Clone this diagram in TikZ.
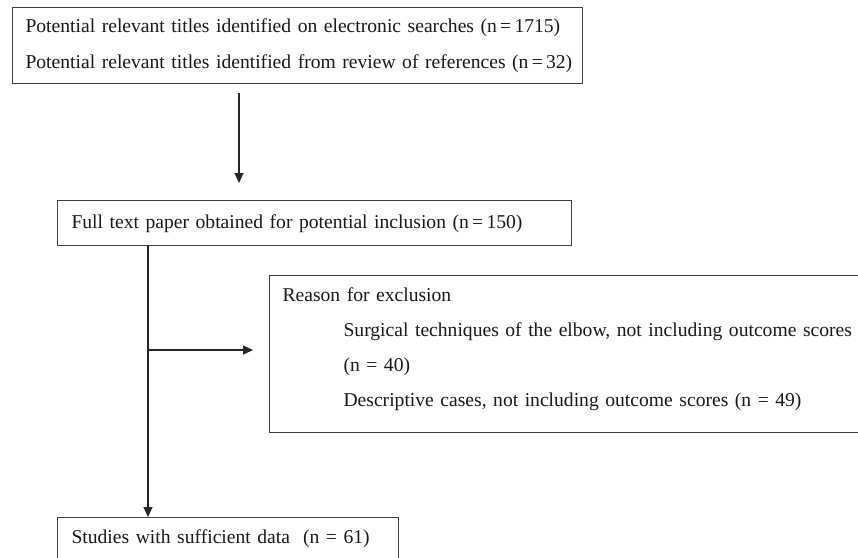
\documentclass[tikz,border=0pt]{standalone}
\usepackage{fontspec}
\setmainfont{Liberation Serif}
\usetikzlibrary{arrows.meta, positioning, calc}

% struts that set the gap above the first and below the last line
\newcommand{\topgap}[1]{\rule{0pt}{#1}}
\newcommand{\botgap}[1]{\rule[-#1]{0pt}{#1}}

\tikzset{
  box/.style={draw=black!75, line width=1.1pt, anchor=north west, align=left,
    inner ysep=0pt, font=\fontsize{19.6}{36}\selectfont, text=black!90},
  arr/.style={-{Triangle[length=10pt, width=9pt]}, line width=1.1pt, draw=black!85}
}

\begin{document}
\begin{tikzpicture}[x=1pt, y=-1pt]
    \useasboundingbox (0,0) rectangle (858,557);

    \node[box, inner xsep=13pt, text width=544pt] (search) at (12,7)
        {\topgap{25pt}\mbox{Potential relevant titles identified on electronic searches (n\,=\,1715)}\\
         \mbox{Potential relevant titles identified from review of references (n\,=\,32)}\botgap{15pt}};
    \node[box, inner xsep=14pt, text width=486pt] (full) at (57,200)
        {\topgap{28pt}\mbox{Full text paper obtained for potential inclusion (n\,=\,150)}\botgap{17pt}};
    \node[box, inner xsep=13pt, text width=575pt, font=\fontsize{19.6}{35}\selectfont] (excl) at (269,275)
        {\topgap{26pt}Reason for exclusion\\
         \hspace*{61pt}\mbox{Surgical techniques of the elbow, not including outcome scores}\\
         \hspace*{61pt}(n = 40)\\
         \hspace*{61pt}\mbox{Descriptive cases, not including outcome scores (n = 49)}\botgap{26pt}};
    \node[box, inner xsep=14pt, text width=313pt] (studies) at (57,517)
        {\topgap{26pt}\mbox{Studies with sufficient data\ \ (n = 61)}\botgap{20pt}};

    % connectors
    \coordinate (a1) at (239,93);
    \coordinate (v0) at (148,245);
    \coordinate (v1) at (148,350);
    \draw[arr, shorten >=17pt] (a1) -- (a1 |- full.north);
    \draw[arr] (v0) -- (v0 |- studies.north);
    \draw[arr, shorten >=16pt] (v1) -- (v1 -| excl.west);
\end{tikzpicture}
\end{document}
